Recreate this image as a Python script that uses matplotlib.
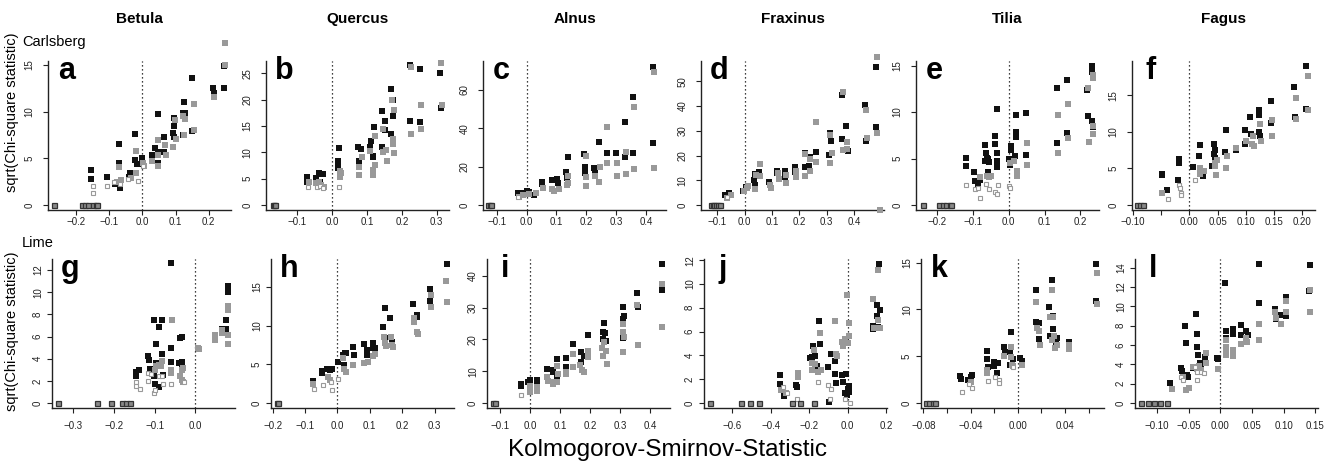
import matplotlib
matplotlib.use("Agg")
import matplotlib.pyplot as plt

plt.rcParams['font.family'] = ['Liberation Sans', 'DejaVu Sans']

# ---------------------------------------------------------------
# values: (KS statistic, sqrt(chi-square))
# black = filled black squares, gray = filled gray, open = open gray
# ---------------------------------------------------------------
genera = ["Betula", "Quercus", "Alnus", "Fraxinus", "Tilia", "Fagus"]
rows = ["Carlsberg", "Lime"]
letters = list("abcdefghijkl")

# zero-valued points (all three series overlap here)
a_zero = [-0.268, -0.182, -0.173, -0.165, -0.149, -0.141, -0.137]
b_zero = [-0.171, -0.168, -0.165]
c_zero = [-0.13, -0.124, -0.118]
d_zero = [-0.124, -0.117, -0.11, -0.103, -0.096, -0.09]
e_zero = [-0.24, -0.195, -0.185, -0.175, -0.165, -0.16]
f_zero = [-0.094, -0.088, -0.083]
g_zero = [-0.338, -0.242, -0.207, -0.18, -0.171, -0.16]
h_zero = [-0.186, -0.183]
i_zero = [-0.124, -0.118]
j_zero = [-0.718, -0.557, -0.506, -0.463, -0.292, -0.249, -0.176]
k_zero = [-0.078, -0.075, -0.072, -0.07]
l_zero = [-0.125, -0.115, -0.105, -0.095, -0.085]

# a: Betula / Carlsberg
a_black = [(-0.154, 3.75), (-0.154, 2.8), (-0.108, 3.0), (-0.084, 2.3), (-0.071, 6.5), (-0.071, 4.5),
           (-0.069, 1.8), (-0.038, 3.4), (-0.04, 3.0), (-0.023, 7.6), (-0.023, 4.8), (-0.017, 4.4),
           (0.0, 5.0), (-0.007, 4.4), (0.03, 5.35), (0.038, 6.1), (0.046, 9.8), (0.046, 5.7), (0.046, 4.5),
           (0.066, 7.25), (0.066, 5.7), (0.091, 7.7), (0.096, 9.3), (0.096, 8.5), (0.096, 7.3), (0.122, 7.5),
           (0.122, 9.9), (0.125, 11.0), (0.127, 9.9), (0.15, 13.6), (0.15, 7.9), (0.213, 12.5), (0.215, 12.0),
           (0.246, 14.9), (0.246, 12.5)]
a_gray = [(-0.078, 2.5), (-0.071, 4.1), (-0.066, 2.7), (-0.035, 2.9), (-0.02, 5.8), (-0.02, 3.4), (0.003, 4.5),
          (0.005, 4.2), (0.03, 4.75), (0.046, 7.0), (0.048, 5.4), (0.048, 4.2), (0.069, 6.4), (0.071, 5.4),
          (0.093, 6.2), (0.098, 9.1), (0.101, 7.1), (0.122, 9.5), (0.129, 9.2), (0.125, 7.5), (0.154, 10.8),
          (0.154, 8.0), (0.215, 11.6), (0.25, 17.4), (0.25, 15.0)]
a_open = [(-0.149, 2.0), (-0.149, 1.25), (-0.108, 2.0), (-0.086, 2.5), (-0.068, 2.3), (-0.043, 2.8),
          (-0.015, 2.6), (0.003, 4.2)]

# b: Quercus / Carlsberg
b_black = [(-0.072, 5.4), (-0.072, 4.45), (-0.046, 5.1), (-0.038, 6.0), (-0.031, 5.85), (-0.027, 5.9),
           (-0.036, 4.45), (0.019, 10.8), (0.017, 8.4), (0.017, 7.95), (0.017, 7.0), (0.073, 11.1), (0.076, 8.3),
           (0.083, 10.6), (0.107, 11.1), (0.111, 12.1), (0.116, 9.4), (0.118, 9.2), (0.121, 14.8), (0.143, 17.8),
           (0.142, 11.1), (0.152, 16.0), (0.152, 14.3), (0.169, 22.1), (0.173, 19.9), (0.175, 16.9),
           (0.17, 13.4), (0.173, 12.2), (0.223, 26.5), (0.223, 15.9), (0.251, 25.8), (0.251, 15.7),
           (0.309, 25.0), (0.311, 18.4)]
b_gray = [(-0.067, 4.45), (-0.046, 4.1), (-0.038, 4.45), (-0.031, 3.8), (-0.025, 3.5), (0.021, 6.4),
          (0.023, 5.3), (0.026, 6.0), (0.076, 7.3), (0.078, 5.7), (0.086, 9.1), (0.109, 10.2), (0.118, 6.6),
          (0.118, 5.7), (0.124, 7.6), (0.124, 13.2), (0.145, 14.4), (0.145, 10.0), (0.154, 10.4), (0.156, 8.3),
          (0.171, 20.0), (0.175, 12.5), (0.175, 11.6), (0.178, 18.0), (0.177, 9.9), (0.227, 26.2),
          (0.227, 13.4), (0.254, 18.9), (0.254, 14.5), (0.311, 27.0), (0.314, 18.9)]
b_open = [(-0.07, 3.5), (-0.044, 3.5), (-0.036, 3.6), (-0.027, 3.2), (0.019, 3.5)]

# c: Alnus / Carlsberg
c_black = [(-0.029, 6.4), (-0.019, 6.4), (0.0, 7.5), (0.009, 7.0), (0.025, 5.2), (0.052, 12.2), (0.052, 11.0),
           (0.085, 13.0), (0.102, 13.4), (0.105, 11.7), (0.131, 17.4), (0.134, 13.9), (0.138, 24.9),
           (0.192, 26.6), (0.194, 20.0), (0.194, 16.5), (0.227, 19.1), (0.229, 16.5), (0.241, 33.0),
           (0.269, 40.5), (0.269, 27.3), (0.301, 27.0), (0.331, 43.5), (0.331, 25.2), (0.356, 56.5),
           (0.356, 27.0), (0.424, 72.2), (0.424, 32.5), (0.303, 22.1)]
c_gray = [(-0.024, 4.3), (-0.013, 5.2), (0.009, 5.7), (0.031, 6.4), (0.055, 8.7), (0.085, 8.2), (0.091, 7.5),
          (0.109, 8.2), (0.138, 11.7), (0.14, 15.1), (0.134, 10.4), (0.198, 25.6), (0.2, 14.8), (0.2, 9.9),
          (0.229, 15.1), (0.244, 12.2), (0.271, 40.9), (0.271, 21.7), (0.303, 21.7), (0.303, 15.3),
          (0.334, 27.8), (0.334, 16.2), (0.36, 51.3), (0.36, 18.6), (0.427, 69.6), (0.427, 19.1), (0.245, 20.0)]
c_open = [(-0.03, 4.0)]

# d: Fraxinus / Carlsberg
d_black = [(-0.07, 4.0), (-0.057, 4.7), (-0.005, 5.8), (0.007, 7.4), (0.034, 10.1), (0.038, 12.5),
           (0.037, 8.1), (0.052, 13.2), (0.089, 9.4), (0.12, 13.9), (0.12, 12.8), (0.148, 13.7), (0.148, 11.5),
           (0.183, 15.2), (0.183, 13.5), (0.22, 20.9), (0.22, 15.2), (0.238, 19.5), (0.235, 15.9), (0.26, 21.6),
           (0.309, 20.2), (0.317, 26.0), (0.312, 29.0), (0.357, 44.5), (0.357, 26.5), (0.37, 31.9),
           (0.376, 22.0), (0.439, 40.4), (0.443, 26.0), (0.479, 55.9), (0.479, 31.4)]
d_gray = [(-0.063, 2.7), (-0.051, 4.0), (-0.002, 5.7), (0.01, 6.7), (0.012, 7.7), (0.037, 6.3), (0.04, 12.1),
          (0.055, 11.7), (0.055, 16.6), (0.093, 8.1), (0.095, 6.7), (0.122, 13.1), (0.124, 10.5), (0.15, 12.1),
          (0.152, 9.0), (0.187, 13.9), (0.189, 11.5), (0.222, 20.5), (0.222, 11.9), (0.239, 18.5),
          (0.239, 13.7), (0.262, 33.4), (0.262, 17.3), (0.311, 28.3), (0.311, 17.1), (0.321, 20.9),
          (0.361, 45.8), (0.361, 22.2), (0.373, 25.6), (0.373, 22.6), (0.444, 38.4), (0.446, 27.0),
          (0.482, 59.7), (0.483, 29.2), (0.495, -1.8)]
d_open = [(-0.065, 3.2)]

# e: Tilia / Carlsberg
e_black = [(-0.118, 5.1), (-0.118, 4.2), (-0.097, 3.5), (-0.094, 2.6), (-0.086, 2.2), (-0.08, 2.7),
           (-0.067, 6.5), (-0.064, 5.6), (-0.06, 5.1), (-0.058, 4.9), (-0.055, 4.6), (-0.067, 4.7),
           (-0.058, 3.6), (-0.039, 7.4), (-0.039, 6.6), (-0.034, 10.3), (-0.034, 5.6), (-0.034, 4.7),
           (-0.034, 4.1), (0.001, 5.0), (0.004, 4.3), (0.007, 6.3), (0.007, 5.9), (0.02, 7.9), (0.02, 7.3),
           (0.02, 9.7), (0.018, 5.3), (0.048, 9.9), (0.048, 5.4), (0.136, 12.6), (0.136, 6.7), (0.163, 13.5),
           (0.163, 7.7), (0.219, 12.4), (0.221, 9.6), (0.232, 15.0), (0.232, 14.3), (0.232, 9.0), (0.235, 8.4)]
e_gray = [(-0.079, 3.0), (-0.062, 3.1), (-0.055, 3.0), (-0.05, 3.1), (0.004, 4.5), (0.015, 4.7), (0.024, 3.7),
          (0.024, 3.1), (0.05, 6.7), (0.05, 4.3), (0.138, 9.7), (0.138, 5.6), (0.166, 10.9), (0.166, 7.2),
          (0.222, 12.6), (0.225, 6.8), (0.236, 14.0), (0.236, 13.7), (0.236, 8.5), (0.236, 7.6)]
e_open = [(-0.118, 2.2), (-0.095, 1.7), (-0.085, 1.8), (-0.079, 0.8), (-0.064, 2.3), (-0.055, 1.7),
          (-0.039, 1.4), (-0.032, 1.2), (-0.03, 2.2), (0.001, 2.0), (0.004, 1.8)]

# f: Fagus / Carlsberg
f_black = [(-0.048, 4.3), (-0.048, 4.1), (-0.039, 2.1), (-0.02, 3.4), (-0.018, 6.3), (-0.018, 5.8),
           (0.007, 5.2), (0.017, 6.7), (0.019, 8.2), (0.024, 4.0), (0.04, 5.3), (0.043, 8.4), (0.044, 7.0),
           (0.046, 7.5), (0.046, 6.5), (0.064, 7.3), (0.065, 10.3), (0.082, 7.5), (0.099, 10.2), (0.099, 8.4),
           (0.108, 12.0), (0.11, 9.7), (0.123, 13.0), (0.123, 12.3), (0.123, 10.0), (0.125, 9.5),
           (0.144, 14.2), (0.144, 11.2), (0.186, 16.1), (0.187, 12.0), (0.207, 19.0), (0.207, 13.2)]
f_gray = [(-0.048, 1.7), (0.019, 5.0), (0.018, 4.2), (0.025, 4.6), (0.045, 5.7), (0.046, 5.3), (0.048, 4.1),
          (0.049, 6.2), (0.065, 5.1), (0.067, 6.7), (0.083, 7.8), (0.101, 8.8), (0.111, 8.4), (0.113, 9.4),
          (0.114, 8.1), (0.126, 11.1), (0.127, 8.8), (0.147, 11.6), (0.147, 9.5), (0.189, 14.7), (0.19, 11.7),
          (0.21, 17.7), (0.21, 13.0)]
f_open = [(-0.038, 0.8), (-0.018, 2.7), (-0.017, 2.3), (-0.015, 1.7), (-0.015, 1.4), (0.009, 3.4)]

# g: Betula / Lime
g_black = [(-0.147, 2.4), (-0.147, 2.8), (-0.139, 3.0), (-0.116, 4.2), (-0.114, 3.9), (-0.112, 3.1),
           (-0.102, 7.5), (-0.102, 2.4), (-0.1, 1.75), (-0.098, 5.3), (-0.098, 3.6), (-0.089, 6.85),
           (-0.089, 1.45), (-0.081, 7.45), (-0.081, 4.4), (-0.08, 2.5), (-0.059, 12.6), (-0.061, 5.0),
           (-0.061, 3.7), (-0.039, 5.85), (-0.034, 3.3), (-0.034, 3.7), (-0.032, 5.95), (-0.04, 3.6),
           (0.079, 10.6), (0.079, 10.0), (0.076, 7.45), (0.066, 6.7), (0.076, 6.7), (0.048, 5.85)]
g_gray = [(-0.1, 3.0), (-0.096, 3.3), (-0.089, 3.4), (-0.081, 3.8), (-0.084, 3.3), (-0.057, 7.45),
          (-0.061, 3.0), (-0.059, 2.7), (-0.034, 3.0), (-0.03, 3.2), (-0.039, 2.4), (-0.034, 2.1), (-0.03, 1.9),
          (0.007, 5.0), (0.009, 4.9), (0.048, 6.1), (0.048, 5.7), (0.064, 6.6), (0.064, 6.3), (0.08, 8.8),
          (0.08, 8.4), (0.08, 6.1), (0.08, 5.3)]
g_open = [(-0.145, 1.9), (-0.145, 1.5), (-0.137, 1.25), (-0.116, 2.7), (-0.116, 2.0), (-0.108, 2.6),
          (-0.102, 0.9), (-0.1, 1.2), (-0.089, 2.4), (-0.08, 1.7), (-0.081, 2.4), (-0.061, 1.7), (-0.029, 1.9)]

# h: Quercus / Lime
h_black = [(-0.074, 2.85), (-0.048, 4.15), (-0.048, 3.9), (-0.033, 4.45), (-0.023, 4.3), (-0.018, 4.45),
           (0.003, 5.3), (0.016, 6.2), (0.024, 6.4), (0.019, 4.9), (0.027, 6.5), (0.049, 7.2), (0.052, 6.2),
           (0.082, 7.6), (0.091, 6.8), (0.091, 6.2), (0.109, 7.8), (0.109, 7.05), (0.116, 7.05), (0.142, 9.8),
           (0.147, 12.25), (0.147, 8.35), (0.163, 10.95), (0.168, 7.9), (0.233, 12.8), (0.245, 11.1),
           (0.245, 11.4), (0.287, 14.7), (0.287, 13.2), (0.338, 18.0)]
h_gray = [(-0.076, 2.4), (-0.028, 3.4), (-0.023, 3.0), (0.016, 5.75), (0.021, 4.45), (0.027, 4.0), (0.049, 4.9),
          (0.082, 5.1), (0.093, 5.3), (0.109, 6.05), (0.116, 6.3), (0.144, 8.5), (0.147, 7.7), (0.15, 7.3),
          (0.165, 8.5), (0.168, 7.5), (0.171, 7.2), (0.235, 10.95), (0.235, 10.5), (0.247, 9.2), (0.249, 8.9),
          (0.289, 14.0), (0.289, 12.4), (0.336, 15.7), (0.338, 13.1)]
h_open = [(-0.072, 1.85), (-0.045, 2.3), (-0.021, 2.7), (-0.018, 1.65), (0.003, 3.15)]

# i: Alnus / Lime
i_black = [(-0.03, 5.9), (-0.03, 5.3), (-0.006, 6.6), (-0.002, 7.2), (0.022, 7.2), (0.022, 5.9), (0.056, 10.8),
           (0.076, 10.5), (0.078, 9.8), (0.089, 8.2), (0.091, 13.7), (0.12, 14.0), (0.12, 11.4), (0.142, 18.7),
           (0.169, 16.1), (0.169, 12.9), (0.18, 14.7), (0.194, 21.4), (0.242, 20.0), (0.244, 22.4),
           (0.247, 25.1), (0.25, 22.1), (0.253, 19.6), (0.309, 30.1), (0.309, 26.3), (0.313, 27.4),
           (0.309, 20.3), (0.358, 34.5), (0.36, 30.3), (0.439, 43.8), (0.439, 35.6)]
i_gray = [(-0.002, 5.3), (-0.002, 4.2), (-0.002, 3.5), (0.022, 5.1), (0.024, 3.8), (0.056, 8.2), (0.058, 6.9),
          (0.078, 6.6), (0.078, 5.9), (0.091, 11.6), (0.094, 9.1), (0.091, 6.6), (0.12, 9.8), (0.12, 9.1),
          (0.142, 15.4), (0.144, 11.4), (0.167, 11.9), (0.172, 10.3), (0.18, 9.8), (0.194, 16.4), (0.194, 14.5),
          (0.239, 17.2), (0.244, 14.7), (0.247, 19.3), (0.253, 16.4), (0.256, 12.1), (0.309, 22.4),
          (0.311, 24.8), (0.311, 16.1), (0.313, 20.8), (0.358, 30.8), (0.36, 18.2), (0.439, 37.5), (0.439, 24.0)]
i_open = [(-0.03, 2.4)]

# j: Fraxinus / Lime
j_black = [(-0.096, 0.1), (-0.35, 2.35), (-0.35, 1.6), (-0.332, 0.55), (-0.322, 0.8), (-0.27, 1.5),
           (-0.263, 1.35), (-0.197, 3.75), (-0.188, 3.9), (-0.179, 4.75), (-0.17, 3.95), (-0.148, 6.9),
           (-0.144, 4.95), (-0.162, 3.1), (-0.101, 3.05), (-0.089, 4.15), (-0.066, 3.55), (-0.066, 2.4),
           (-0.061, 1.7), (-0.031, 2.35), (-0.026, 1.75), (-0.009, 2.4), (-0.014, 0.85), (-0.005, 0.65),
           (0.003, 1.15), (0.009, 0.95), (0.009, 1.4), (0.134, 6.2), (0.134, 6.5), (0.151, 7.3), (0.155, 8.2),
           (0.165, 11.7), (0.169, 7.8), (0.16, 6.4)]
j_gray = [(-0.345, 1.1), (-0.322, 0.85), (-0.257, 2.5), (-0.257, 2.15), (-0.188, 3.4), (-0.183, 2.8),
          (-0.176, 4.45), (-0.17, 3.25), (-0.153, 2.6), (-0.144, 5.85), (-0.141, 2.8), (-0.066, 6.85),
          (-0.061, 4.15), (-0.057, 3.95), (-0.031, 5.15), (-0.023, 4.75), (-0.014, 5.35), (-0.005, 9.1),
          (0.003, 5.05), (0.009, 6.75), (0.009, 5.6), (0.134, 8.7), (0.137, 6.3), (0.157, 11.2), (0.16, 7.0),
          (0.169, 6.3)]
j_open = [(-0.339, 1.35), (-0.315, 0.85), (-0.266, 0.35), (-0.153, 1.8), (-0.101, 1.5), (-0.089, 1.15),
          (-0.092, 0.35), (-0.014, 0.35), (0.012, 0.0)]

# k: Tilia / Lime
k_black = [(-0.049, 2.9), (-0.048, 2.6), (-0.042, 2.5), (-0.04, 2.8), (-0.039, 3.0), (-0.026, 5.6),
           (-0.026, 4.7), (-0.025, 3.8), (-0.02, 4.4), (-0.02, 3.9), (-0.018, 3.2), (-0.017, 4.25),
           (-0.0115, 5.95), (-0.0107, 5.4), (-0.007, 5.4), (-0.0065, 4.05), (-0.0056, 7.55), (-0.0037, 4.65),
           (0.002, 4.8), (0.0034, 4.5), (0.0155, 12.1), (0.0155, 8.7), (0.018, 8.6), (0.018, 6.8),
           (0.026, 10.3), (0.027, 7.2), (0.029, 13.1), (0.0296, 9.3), (0.03, 7.9), (0.033, 6.9), (0.032, 6.4),
           (0.043, 6.5), (0.066, 14.9), (0.066, 10.9)]
k_gray = [(-0.04, 2.25), (-0.026, 3.5), (-0.026, 3.2), (-0.0113, 5.0), (-0.0059, 6.0), (-0.0059, 4.9),
          (-0.005, 4.05), (-0.0037, 3.9), (0.0034, 4.05), (0.0155, 10.8), (0.0166, 8.0), (0.018, 7.65),
          (0.019, 6.2), (0.027, 9.2), (0.029, 12.1), (0.0296, 9.2), (0.029, 6.75), (0.031, 7.2),
          (0.0315, 5.85), (0.033, 6.2), (0.0437, 6.2), (0.0437, 5.75), (0.0668, 13.9), (0.0668, 10.6)]
k_open = [(-0.047, 1.2), (-0.041, 2.0), (-0.039, 1.65), (-0.025, 2.35), (-0.019, 2.8), (-0.016, 2.45),
          (-0.016, 2.15), (-0.0037, 3.8)]

# l: Fagus / Lime
l_black = [(-0.079, 2.1), (-0.063, 3.65), (-0.06, 3.3), (-0.056, 7.95), (-0.055, 6.2), (-0.053, 2.85),
           (-0.051, 2.7), (-0.043, 3.65), (-0.038, 9.25), (-0.037, 7.1), (-0.037, 5.75), (-0.035, 4.95),
           (-0.033, 4.15), (-0.03, 3.9), (-0.025, 4.8), (-0.025, 4.4), (-0.005, 4.7), (-0.004, 4.6),
           (0.007, 12.4), (0.008, 7.5), (0.008, 6.7), (0.02, 7.7), (0.02, 7.1), (0.032, 8.1), (0.032, 7.0),
           (0.041, 7.5), (0.044, 7.0), (0.061, 14.4), (0.061, 10.3), (0.086, 9.7), (0.087, 8.65), (0.096, 9.1),
           (0.103, 11.0), (0.103, 9.0), (0.142, 14.3), (0.14, 11.6)]
l_gray = [(-0.077, 1.4), (-0.059, 2.7), (-0.055, 1.3), (-0.049, 1.5), (-0.043, 3.7), (-0.037, 3.55),
          (-0.034, 3.8), (-0.03, 3.4), (-0.023, 5.2), (-0.023, 4.15), (-0.004, 3.55), (0.008, 6.5), (0.008, 5.8),
          (0.008, 5.3), (0.008, 4.95), (0.02, 5.5), (0.02, 4.85), (0.032, 6.1), (0.041, 6.7), (0.042, 6.3),
          (0.061, 8.15), (0.061, 6.5), (0.086, 9.45), (0.088, 8.75), (0.096, 8.15), (0.103, 10.6),
          (0.103, 9.45), (0.142, 11.7), (0.142, 9.45)]
l_open = [(-0.062, 2.7), (-0.059, 2.4), (-0.04, 3.7), (-0.037, 3.2), (-0.037, 2.4), (-0.03, 3.2), (-0.026, 3.1)]

# axis ranges and ticks per panel
xlims = [(-0.285, 0.267), (-0.19, 0.335), (-0.146, 0.467), (-0.159, 0.509), (-0.259, 0.252), (-0.102, 0.223),
         (-0.352, 0.097), (-0.205, 0.36), (-0.144, 0.467), (-0.748, 0.205), (-0.082, 0.073), (-0.135, 0.154)]
ylims = [(-0.54, 15.43), (-0.95, 27.35), (-2.6, 75.1), (-2.0, 58.2), (-0.54, 15.5), (-0.68, 19.7),
         (-0.45, 13.0), (-0.65, 18.6), (-1.6, 45.3), (-0.42, 12.1), (-0.54, 15.4), (-0.52, 14.9)]
xticks = [[-0.2, -0.1, 0.0, 0.1, 0.2], [-0.1, 0.0, 0.1, 0.2, 0.3], [-0.1, 0.0, 0.1, 0.2, 0.3, 0.4],
          [-0.1, 0.0, 0.1, 0.2, 0.3, 0.4], [-0.2, -0.1, 0.0, 0.1, 0.2],
          [-0.10, -0.05, 0.0, 0.05, 0.10, 0.15, 0.20],
          [-0.3, -0.2, -0.1, 0.0], [-0.2, -0.1, 0.0, 0.1, 0.2, 0.3], [-0.1, 0.0, 0.1, 0.2, 0.3, 0.4],
          [-0.6, -0.4, -0.2, 0.0, 0.2], [-0.08, -0.06, -0.04, -0.02, 0.0, 0.02, 0.04, 0.06],
          [-0.10, -0.05, 0.0, 0.05, 0.10, 0.15]]
xdec = [1, 1, 1, 1, 1, 2, 1, 1, 1, 1, 2, 2]
xhide = [[], [], [], [], [], [-0.05], [], [], [], [], [-0.06, -0.02, 0.02, 0.06], []]
yticks = [[0, 5, 10, 15], [0, 5, 10, 15, 20, 25], [0, 20, 40, 60], [0, 10, 20, 30, 40, 50], [0, 5, 10, 15],
          [0, 5, 10, 15], [0, 2, 4, 6, 8, 10, 12], [0, 5, 10, 15], [0, 10, 20, 30, 40], [0, 2, 4, 6, 8, 10, 12],
          [0, 5, 10, 15], [0, 2, 4, 6, 8, 10, 12, 14]]

zeros = [a_zero, b_zero, c_zero, d_zero, e_zero, f_zero, g_zero, h_zero, i_zero, j_zero, k_zero, l_zero]
blacks = [a_black, b_black, c_black, d_black, e_black, f_black, g_black, h_black, i_black, j_black, k_black, l_black]
grays = [a_gray, b_gray, c_gray, d_gray, e_gray, f_gray, g_gray, h_gray, i_gray, j_gray, k_gray, l_gray]
opens = [a_open, b_open, c_open, d_open, e_open, f_open, g_open, h_open, i_open, j_open, k_open, l_open]

# ---------------------------------------------------------------
W, H = 1336, 465
fig = plt.figure(figsize=(W / 100, H / 100), dpi=100)

row_left = [[48, 266, 483, 701, 916, 1132], [52, 271, 487, 704, 921, 1135]]
row_top = [61, 259]
row_bot = [210, 408]
pw = 183


def fmt(v, d):
    s = '{:.{}f}'.format(abs(v), d)
    return ('\u2212' + s) if v < 0 else s


for k in range(12):
    r, c = divmod(k, 6)
    left = row_left[r][c]
    ax = fig.add_axes([left / W, 1 - row_bot[r] / H, pw / W, (row_bot[r] - row_top[r]) / H])
    ax.set_xlim(*xlims[k])
    ax.set_ylim(*ylims[k])
    for s in ['top', 'right']:
        ax.spines[s].set_visible(False)
    for s in ['left', 'bottom']:
        ax.spines[s].set_linewidth(1.0)
        ax.spines[s].set_color('#222222')
    ax.axvline(0, color='black', ls=(0, (1, 2.2)), lw=0.9, zorder=1)

    ax.plot([p[0] for p in blacks[k]], [p[1] for p in blacks[k]], 's', color='#111111', ms=4.4, mew=0,
            clip_on=False, zorder=3)
    ax.plot([p[0] for p in grays[k]], [p[1] for p in grays[k]], 's', color='#999999', ms=3.9, mew=0,
            clip_on=False, zorder=4)
    ax.plot([p[0] for p in opens[k]], [p[1] for p in opens[k]], 's', mfc='white', mec='#999999', ms=3.3,
            mew=0.8, clip_on=False, zorder=5)
    # overlapping zeros look like a dark ring with gray centre
    ax.plot(zeros[k], [0] * len(zeros[k]), 's', mfc='#888888', mec='#333333', ms=3.6, mew=0.9,
            clip_on=False, zorder=6)

    ax.set_xticks(xticks[k])
    ax.set_xticklabels(['' if any(abs(t - h) < 1e-9 for h in xhide[k]) else fmt(t, xdec[k])
                        for t in xticks[k]])
    ax.set_yticks(yticks[k])
    ax.set_yticklabels([str(t) for t in yticks[k]], rotation=90, va='center')
    ax.tick_params(axis='both', length=3.6, width=0.8, color='#222222', labelsize=7, labelcolor='#222222')
    ax.tick_params(axis='x', pad=1.5 if r == 0 else 6)
    ax.tick_params(axis='y', pad=6 if r == 0 else 3)

    ax.text(0.1, 0.879, letters[k], transform=ax.transAxes, fontsize=22, fontweight='bold',
            ha='center', va='baseline', zorder=7)

    if r == 0:
        fig.text((left + pw / 2) / W, 1 - 19 / H, genera[c], ha='center', va='center',
                 fontsize=11, fontweight='bold')

fig.text(22 / W, 1 - 42 / H, rows[0], ha='left', va='center', fontsize=10.5)
fig.text(22 / W, 1 - 243 / H, rows[1], ha='left', va='center', fontsize=10.5)
fig.text(12 / W, 1 - 112 / H, 'sqrt(Chi-square statistic)', rotation=90, ha='center', va='center', fontsize=10.5)
fig.text(12 / W, 1 - 331 / H, 'sqrt(Chi-square statistic)', rotation=90, ha='center', va='center', fontsize=10.5)
fig.text(668 / W, 1 - 450 / H, 'Kolmogorov-Smirnov-Statistic', ha='center', va='center', fontsize=17.5)

fig.savefig('out.png', dpi=100)
